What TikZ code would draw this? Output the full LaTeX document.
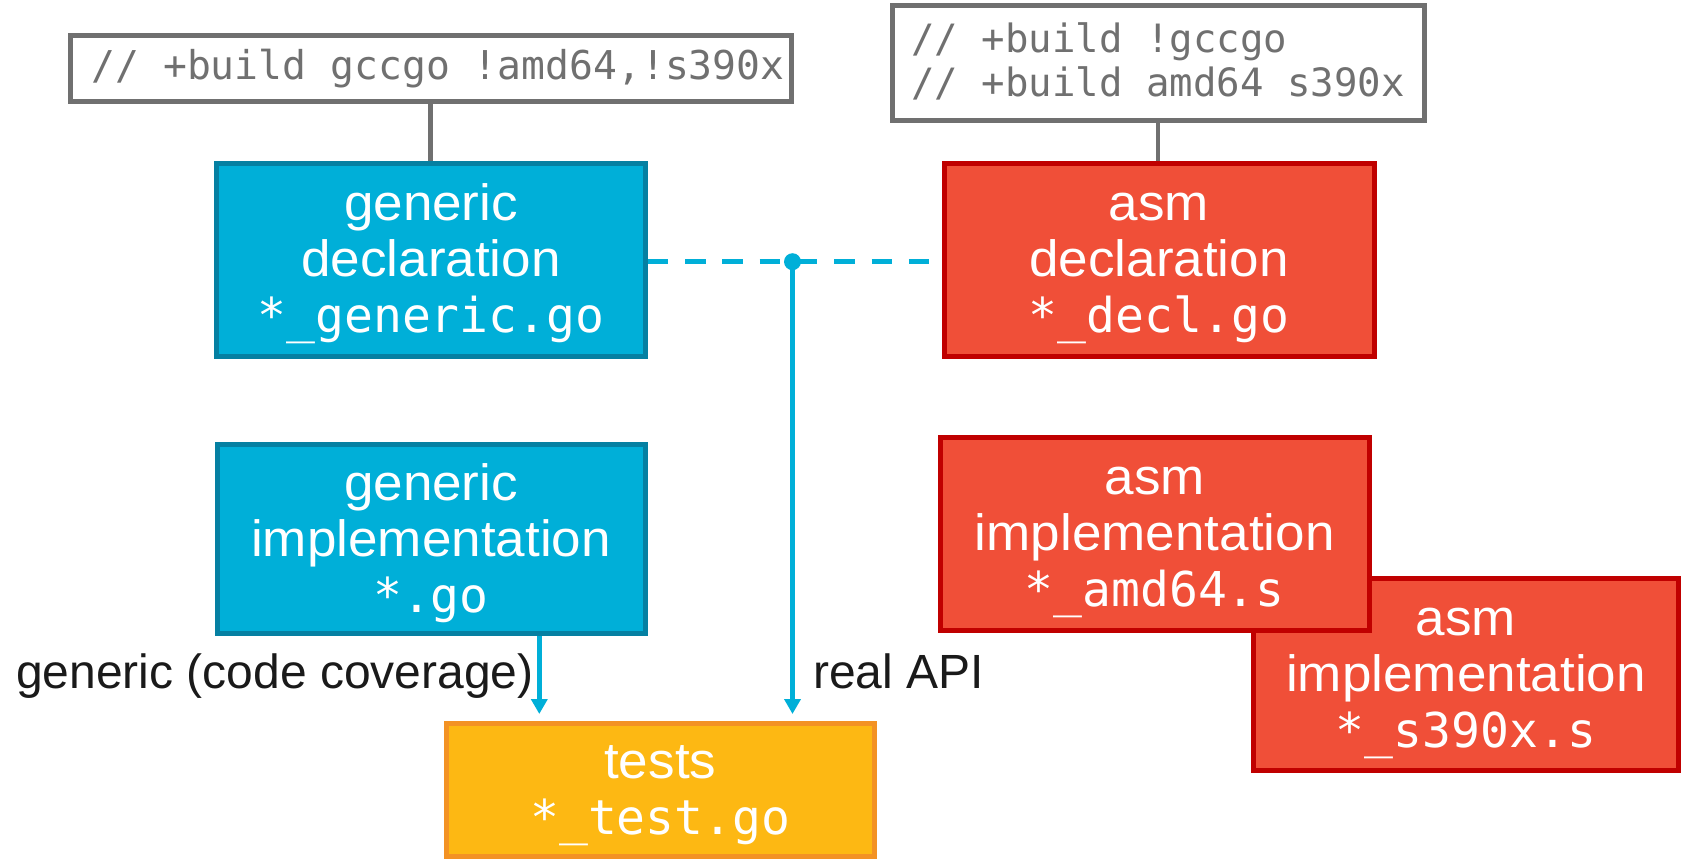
\documentclass[tikz,border=0pt]{standalone}
\usepackage{fontspec}
\setmainfont{Liberation Sans}
\newfontfamily\boxsans[FakeStretch=1.04]{Liberation Sans}
\newfontfamily\codefont{DejaVu Sans Mono}
\usetikzlibrary{arrows.meta,calc}

\definecolor{cblue}{HTML}{00AFD8}
\definecolor{cblueedge}{HTML}{0580A2}
\definecolor{cred}{HTML}{F04F38}
\definecolor{crededge}{HTML}{C00000}
\definecolor{corange}{HTML}{FDB813}
\definecolor{corangeedge}{HTML}{F39224}
\definecolor{cgray}{HTML}{707070}
\definecolor{cink}{HTML}{1A1A1A}

\newcommand{\boxfont}{\boxsans\fontsize{51}{56}\selectfont}
\newcommand{\boxcode}{\codefont\fontsize{48}{56}\selectfont}
% fixed first-line height and last-line depth, so every box sets its lines alike
\newcommand{\topstrut}{\rule{0pt}{46.4pt}}
\newcommand{\botstrut}{\rule[-12pt]{0pt}{12pt}}

\tikzset{
  filebox/.style={draw, line width=5pt, inner sep=0pt, align=center,
    text=white, font=\boxfont},
  genbox/.style={filebox, fill=cblue, draw=cblueedge},
  asmbox/.style={filebox, fill=cred, draw=crededge},
  testbox/.style={filebox, fill=corange, draw=corangeedge},
  tagbox/.style={draw=cgray, fill=white, line width=5pt, inner sep=0pt,
    text=cgray},
  tagline/.style={draw=cgray, line width=4.5pt},
  apiline/.style={draw=cblue, line width=5pt, dash pattern=on 20.5pt off 16.8pt},
  flow/.style={draw=cblue, line width=4.7pt,
    -{Triangle[width=16pt,length=15pt]}, shorten >=6.5pt},
  junction/.style={circle, fill=cblue, inner sep=0pt, minimum size=17pt},
  edgelabel/.style={text=cink, font=\fontsize{48}{52}\selectfont, inner sep=0pt}
}

\begin{document}
\begin{tikzpicture}[x=1pt,y=-1pt]
\useasboundingbox (0,0) rectangle (1681,859);

% build-constraint tags
\node[tagbox, minimum width=721pt, minimum height=66pt,
      font=\codefont\fontsize{39.7}{44}\selectfont] (tagg) at (430.5,68.5)
  {\hspace*{15pt}// +build gccgo !amd64,!s390x};
\node[tagbox, minimum width=532pt, minimum height=114pt, align=left,
      font=\codefont\fontsize{39}{44}\selectfont] (taga) at (1158,63)
  {// +build !gccgo\\// +build amd64 s390x\rule[-6.5pt]{0pt}{6.5pt}};

% generic side
\node[genbox, minimum width=428.5pt, minimum height=193pt] (gdecl) at (431,259.5)
  {\topstrut generic\\declaration\\{\boxcode *\_generic.go\botstrut}};
\node[genbox, minimum width=428pt, minimum height=189.5pt] (gimpl) at (431,539)
  {\topstrut generic\\implementation\\{\boxcode *.go\botstrut}};

% asm side
\node[asmbox, minimum width=430pt, minimum height=193pt] (adecl) at (1159,259.5)
  {\topstrut asm\\declaration\\{\boxcode *\_decl.go\botstrut}};
\node[asmbox, minimum width=425pt, minimum height=192pt] (as390x) at (1466,674.5)
  {\topstrut asm\\implementation\\{\boxcode *\_s390x.s\botstrut}};
\node[asmbox, minimum width=428.5pt, minimum height=192.5pt] (aamd64) at (1154.75,533.75)
  {\topstrut asm\\implementation\\{\boxcode *\_amd64.s\botstrut}};

% tests
\node[testbox, minimum width=428.5pt, minimum height=133pt] (tests) at (660.25,789.5)
  {\topstrut tests\\{\boxcode *\_test.go\botstrut}};

% tags attached to the declarations
\draw[tagline] (tagg.south) -- (tagg.south |- gdecl.north);
\draw[tagline] (taga.south) -- (taga.south |- adecl.north);

% shared API between the two declarations
\draw[apiline] ([yshift=-2.2pt]gdecl.east) -- ([yshift=-2.2pt]adecl.west);
\node[junction] (j) at (792.5,261.7) {};

% what the tests exercise
\draw[flow] ([xshift=108.3pt]gimpl.south) -- ([xshift=108.3pt]gimpl.south |- tests.north);
\draw[flow] (j.center) -- (j.center |- tests.north);

\node[edgelabel, anchor=base east] (lgen) at (534,688) {generic (code coverage)};
\node[edgelabel, anchor=base west] (lapi) at (813,688) {real API};
\end{tikzpicture}
\end{document}
